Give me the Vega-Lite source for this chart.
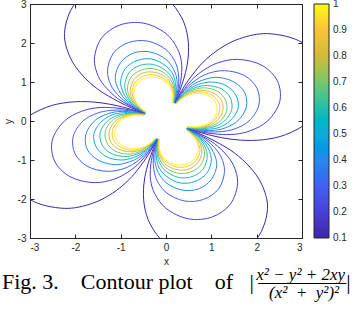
{
"$schema": "https://vega.github.io/schema/vega-lite/v6.json",
"autosize": "none",
"width": 272,
"height": 234,
"padding": {"left": 30, "top": 4, "right": 56, "bottom": 72},
"background": "white",
"config": {"view": {"stroke": "#262626", "strokeWidth": 1}, "font": "Liberation Sans"},
"title": {
  "text": "Fig. 3.\u00a0\u00a0\u00a0\u00a0Contour plot\u00a0\u00a0\u00a0\u00a0of\u00a0\u00a0\u00a0|\u2009\u2014\u2014\u2014\u2014|",
  "subtitle": ["\u2800\u00a0\u00a0\u00a0\u00a0\u00a0\u00a0\u00a0\u00a0\u00a0\u00a0\u00a0\u00a0\u00a0\u00a0\u00a0\u00a0\u00a0\u00a0\u00a0\u00a0\u00a0\u00a0\u00a0\u00a0\u00a0\u00a0\u00a0\u00a0\u00a0\u00a0\u00a0\u00a0\u00a0\u00a0\u00a0\u00a0\u00a0\u00a0\u00a0\u00a0\u00a0\u00a0\u00a0\u00a0\u00a0\u00a0\u00a0\u00a0\u00a0\u00a0\u00a0\u00a0\u00a0\u00a0\u00a0\u00a0\u00a0x\u00b2 \u2212 y\u00b2 + 2xy",
               "\u2800\u00a0\u00a0\u00a0\u00a0\u00a0\u00a0\u00a0\u00a0\u00a0\u00a0\u00a0\u00a0\u00a0\u00a0\u00a0\u00a0\u00a0\u00a0\u00a0\u00a0\u00a0\u00a0\u00a0\u00a0\u00a0\u00a0\u00a0\u00a0\u00a0\u00a0\u00a0\u00a0\u00a0\u00a0\u00a0\u00a0\u00a0\u00a0\u00a0\u00a0\u00a0\u00a0\u00a0\u00a0\u00a0\u00a0\u00a0\u00a0\u00a0\u00a0\u00a0\u00a0\u00a0\u00a0\u00a0\u00a0\u00a0\u00a0\u00a0\u00a0(x\u00b2\u00a0\u00a0+\u00a0\u00a0y\u00b2)\u00b2"],
  "orient": "bottom", "anchor": "start", "frame": "group", "align": "left", "dx": -28, "offset": 6,
  "font": "Liberation Serif", "fontSize": 22, "fontWeight": "normal", "color": "black",
  "subtitleFont": "Liberation Serif", "subtitleFontSize": 17, "subtitleFontStyle": "italic", "subtitleColor": "black",
  "subtitlePadding": -27, "subtitleLineHeight": 18
},
"data": {"values": [
{"c":0.1,"p":0,"x":0.46,"y":-0.19},{"c":0.1,"p":0,"x":0.65,"y":-0.26},{"c":0.1,"p":0,"x":0.93,"y":-0.35},{"c":0.1,"p":0,"x":1.24,"y":-0.43},{"c":0.1,"p":0,"x":1.64,"y":-0.49},{"c":0.1,"p":0,"x":2.15,"y":-0.48},{"c":0.1,"p":0,"x":2.64,"y":-0.35},{"c":0.1,"p":0,"x":3.16,"y":0},{"c":0.1,"p":0,"x":3.55,"y":0.71},{"c":0.1,"p":0,"x":3.47,"y":1.44},{"c":0.1,"p":0,"x":3.01,"y":2.01},{"c":0.1,"p":0,"x":2.24,"y":2.24},{"c":0.1,"p":0,"x":1.62,"y":2.11},{"c":0.1,"p":0,"x":1.18,"y":1.85},{"c":0.1,"p":0,"x":0.82,"y":1.51},{"c":0.1,"p":0,"x":0.58,"y":1.18},{"c":0.1,"p":0,"x":0.41,"y":0.9},{"c":0.1,"p":0,"x":0.28,"y":0.64},{"c":0.1,"p":0,"x":0.2,"y":0.46},
{"c":0.1,"p":1,"x":0.19,"y":0.46},{"c":0.1,"p":1,"x":0.26,"y":0.65},{"c":0.1,"p":1,"x":0.35,"y":0.93},{"c":0.1,"p":1,"x":0.43,"y":1.24},{"c":0.1,"p":1,"x":0.49,"y":1.64},{"c":0.1,"p":1,"x":0.48,"y":2.15},{"c":0.1,"p":1,"x":0.35,"y":2.64},{"c":0.1,"p":1,"x":0,"y":3.16},{"c":0.1,"p":1,"x":-0.71,"y":3.55},{"c":0.1,"p":1,"x":-1.44,"y":3.47},{"c":0.1,"p":1,"x":-2.01,"y":3.01},{"c":0.1,"p":1,"x":-2.24,"y":2.24},{"c":0.1,"p":1,"x":-2.11,"y":1.62},{"c":0.1,"p":1,"x":-1.85,"y":1.18},{"c":0.1,"p":1,"x":-1.51,"y":0.82},{"c":0.1,"p":1,"x":-1.18,"y":0.58},{"c":0.1,"p":1,"x":-0.9,"y":0.41},{"c":0.1,"p":1,"x":-0.64,"y":0.28},{"c":0.1,"p":1,"x":-0.46,"y":0.2},
{"c":0.1,"p":2,"x":-0.46,"y":0.19},{"c":0.1,"p":2,"x":-0.65,"y":0.26},{"c":0.1,"p":2,"x":-0.93,"y":0.35},{"c":0.1,"p":2,"x":-1.24,"y":0.43},{"c":0.1,"p":2,"x":-1.64,"y":0.49},{"c":0.1,"p":2,"x":-2.15,"y":0.48},{"c":0.1,"p":2,"x":-2.64,"y":0.35},{"c":0.1,"p":2,"x":-3.16,"y":0},{"c":0.1,"p":2,"x":-3.55,"y":-0.71},{"c":0.1,"p":2,"x":-3.47,"y":-1.44},{"c":0.1,"p":2,"x":-3.01,"y":-2.01},{"c":0.1,"p":2,"x":-2.24,"y":-2.24},{"c":0.1,"p":2,"x":-1.62,"y":-2.11},{"c":0.1,"p":2,"x":-1.18,"y":-1.85},{"c":0.1,"p":2,"x":-0.82,"y":-1.51},{"c":0.1,"p":2,"x":-0.58,"y":-1.18},{"c":0.1,"p":2,"x":-0.41,"y":-0.9},{"c":0.1,"p":2,"x":-0.28,"y":-0.64},{"c":0.1,"p":2,"x":-0.2,"y":-0.46},
{"c":0.1,"p":3,"x":-0.19,"y":-0.46},{"c":0.1,"p":3,"x":-0.26,"y":-0.65},{"c":0.1,"p":3,"x":-0.35,"y":-0.93},{"c":0.1,"p":3,"x":-0.43,"y":-1.24},{"c":0.1,"p":3,"x":-0.49,"y":-1.64},{"c":0.1,"p":3,"x":-0.48,"y":-2.15},{"c":0.1,"p":3,"x":-0.35,"y":-2.64},{"c":0.1,"p":3,"x":0,"y":-3.16},{"c":0.1,"p":3,"x":0.71,"y":-3.55},{"c":0.1,"p":3,"x":1.44,"y":-3.47},{"c":0.1,"p":3,"x":2.01,"y":-3.01},{"c":0.1,"p":3,"x":2.24,"y":-2.24},{"c":0.1,"p":3,"x":2.11,"y":-1.62},{"c":0.1,"p":3,"x":1.85,"y":-1.18},{"c":0.1,"p":3,"x":1.51,"y":-0.82},{"c":0.1,"p":3,"x":1.18,"y":-0.58},{"c":0.1,"p":3,"x":0.9,"y":-0.41},{"c":0.1,"p":3,"x":0.64,"y":-0.28},{"c":0.1,"p":3,"x":0.46,"y":-0.2},
{"c":0.2,"p":0,"x":0.47,"y":-0.18},{"c":0.2,"p":0,"x":0.66,"y":-0.25},{"c":0.2,"p":0,"x":0.88,"y":-0.3},{"c":0.2,"p":0,"x":1.16,"y":-0.34},{"c":0.2,"p":0,"x":1.52,"y":-0.34},{"c":0.2,"p":0,"x":1.86,"y":-0.25},{"c":0.2,"p":0,"x":2.24,"y":0},{"c":0.2,"p":0,"x":2.51,"y":0.5},{"c":0.2,"p":0,"x":2.46,"y":1.02},{"c":0.2,"p":0,"x":2.13,"y":1.42},{"c":0.2,"p":0,"x":1.58,"y":1.58},{"c":0.2,"p":0,"x":1.14,"y":1.49},{"c":0.2,"p":0,"x":0.84,"y":1.31},{"c":0.2,"p":0,"x":0.58,"y":1.07},{"c":0.2,"p":0,"x":0.41,"y":0.83},{"c":0.2,"p":0,"x":0.29,"y":0.64},{"c":0.2,"p":0,"x":0.2,"y":0.46},
{"c":0.2,"p":1,"x":0.18,"y":0.47},{"c":0.2,"p":1,"x":0.25,"y":0.66},{"c":0.2,"p":1,"x":0.3,"y":0.88},{"c":0.2,"p":1,"x":0.34,"y":1.16},{"c":0.2,"p":1,"x":0.34,"y":1.52},{"c":0.2,"p":1,"x":0.25,"y":1.86},{"c":0.2,"p":1,"x":0,"y":2.24},{"c":0.2,"p":1,"x":-0.5,"y":2.51},{"c":0.2,"p":1,"x":-1.02,"y":2.46},{"c":0.2,"p":1,"x":-1.42,"y":2.13},{"c":0.2,"p":1,"x":-1.58,"y":1.58},{"c":0.2,"p":1,"x":-1.49,"y":1.14},{"c":0.2,"p":1,"x":-1.31,"y":0.84},{"c":0.2,"p":1,"x":-1.07,"y":0.58},{"c":0.2,"p":1,"x":-0.83,"y":0.41},{"c":0.2,"p":1,"x":-0.64,"y":0.29},{"c":0.2,"p":1,"x":-0.46,"y":0.2},
{"c":0.2,"p":2,"x":-0.47,"y":0.18},{"c":0.2,"p":2,"x":-0.66,"y":0.25},{"c":0.2,"p":2,"x":-0.88,"y":0.3},{"c":0.2,"p":2,"x":-1.16,"y":0.34},{"c":0.2,"p":2,"x":-1.52,"y":0.34},{"c":0.2,"p":2,"x":-1.86,"y":0.25},{"c":0.2,"p":2,"x":-2.24,"y":0},{"c":0.2,"p":2,"x":-2.51,"y":-0.5},{"c":0.2,"p":2,"x":-2.46,"y":-1.02},{"c":0.2,"p":2,"x":-2.13,"y":-1.42},{"c":0.2,"p":2,"x":-1.58,"y":-1.58},{"c":0.2,"p":2,"x":-1.14,"y":-1.49},{"c":0.2,"p":2,"x":-0.84,"y":-1.31},{"c":0.2,"p":2,"x":-0.58,"y":-1.07},{"c":0.2,"p":2,"x":-0.41,"y":-0.83},{"c":0.2,"p":2,"x":-0.29,"y":-0.64},{"c":0.2,"p":2,"x":-0.2,"y":-0.46},
{"c":0.2,"p":3,"x":-0.18,"y":-0.47},{"c":0.2,"p":3,"x":-0.25,"y":-0.66},{"c":0.2,"p":3,"x":-0.3,"y":-0.88},{"c":0.2,"p":3,"x":-0.34,"y":-1.16},{"c":0.2,"p":3,"x":-0.34,"y":-1.52},{"c":0.2,"p":3,"x":-0.25,"y":-1.86},{"c":0.2,"p":3,"x":0,"y":-2.24},{"c":0.2,"p":3,"x":0.5,"y":-2.51},{"c":0.2,"p":3,"x":1.02,"y":-2.46},{"c":0.2,"p":3,"x":1.42,"y":-2.13},{"c":0.2,"p":3,"x":1.58,"y":-1.58},{"c":0.2,"p":3,"x":1.49,"y":-1.14},{"c":0.2,"p":3,"x":1.31,"y":-0.84},{"c":0.2,"p":3,"x":1.07,"y":-0.58},{"c":0.2,"p":3,"x":0.83,"y":-0.41},{"c":0.2,"p":3,"x":0.64,"y":-0.29},{"c":0.2,"p":3,"x":0.46,"y":-0.2},
{"c":0.3,"p":0,"x":0.47,"y":-0.18},{"c":0.3,"p":0,"x":0.54,"y":-0.2},{"c":0.3,"p":0,"x":0.72,"y":-0.25},{"c":0.3,"p":0,"x":0.95,"y":-0.28},{"c":0.3,"p":0,"x":1.24,"y":-0.27},{"c":0.3,"p":0,"x":1.52,"y":-0.2},{"c":0.3,"p":0,"x":1.83,"y":0},{"c":0.3,"p":0,"x":2.05,"y":0.41},{"c":0.3,"p":0,"x":2.01,"y":0.83},{"c":0.3,"p":0,"x":1.74,"y":1.16},{"c":0.3,"p":0,"x":1.29,"y":1.29},{"c":0.3,"p":0,"x":0.93,"y":1.22},{"c":0.3,"p":0,"x":0.68,"y":1.07},{"c":0.3,"p":0,"x":0.47,"y":0.87},{"c":0.3,"p":0,"x":0.33,"y":0.68},{"c":0.3,"p":0,"x":0.24,"y":0.52},{"c":0.3,"p":0,"x":0.2,"y":0.46},
{"c":0.3,"p":1,"x":0.18,"y":0.47},{"c":0.3,"p":1,"x":0.2,"y":0.54},{"c":0.3,"p":1,"x":0.25,"y":0.72},{"c":0.3,"p":1,"x":0.28,"y":0.95},{"c":0.3,"p":1,"x":0.27,"y":1.24},{"c":0.3,"p":1,"x":0.2,"y":1.52},{"c":0.3,"p":1,"x":0,"y":1.83},{"c":0.3,"p":1,"x":-0.41,"y":2.05},{"c":0.3,"p":1,"x":-0.83,"y":2.01},{"c":0.3,"p":1,"x":-1.16,"y":1.74},{"c":0.3,"p":1,"x":-1.29,"y":1.29},{"c":0.3,"p":1,"x":-1.22,"y":0.93},{"c":0.3,"p":1,"x":-1.07,"y":0.68},{"c":0.3,"p":1,"x":-0.87,"y":0.47},{"c":0.3,"p":1,"x":-0.68,"y":0.33},{"c":0.3,"p":1,"x":-0.52,"y":0.24},{"c":0.3,"p":1,"x":-0.46,"y":0.2},
{"c":0.3,"p":2,"x":-0.47,"y":0.18},{"c":0.3,"p":2,"x":-0.54,"y":0.2},{"c":0.3,"p":2,"x":-0.72,"y":0.25},{"c":0.3,"p":2,"x":-0.95,"y":0.28},{"c":0.3,"p":2,"x":-1.24,"y":0.27},{"c":0.3,"p":2,"x":-1.52,"y":0.2},{"c":0.3,"p":2,"x":-1.83,"y":0},{"c":0.3,"p":2,"x":-2.05,"y":-0.41},{"c":0.3,"p":2,"x":-2.01,"y":-0.83},{"c":0.3,"p":2,"x":-1.74,"y":-1.16},{"c":0.3,"p":2,"x":-1.29,"y":-1.29},{"c":0.3,"p":2,"x":-0.93,"y":-1.22},{"c":0.3,"p":2,"x":-0.68,"y":-1.07},{"c":0.3,"p":2,"x":-0.47,"y":-0.87},{"c":0.3,"p":2,"x":-0.33,"y":-0.68},{"c":0.3,"p":2,"x":-0.24,"y":-0.52},{"c":0.3,"p":2,"x":-0.2,"y":-0.46},
{"c":0.3,"p":3,"x":-0.18,"y":-0.47},{"c":0.3,"p":3,"x":-0.2,"y":-0.54},{"c":0.3,"p":3,"x":-0.25,"y":-0.72},{"c":0.3,"p":3,"x":-0.28,"y":-0.95},{"c":0.3,"p":3,"x":-0.27,"y":-1.24},{"c":0.3,"p":3,"x":-0.2,"y":-1.52},{"c":0.3,"p":3,"x":0,"y":-1.83},{"c":0.3,"p":3,"x":0.41,"y":-2.05},{"c":0.3,"p":3,"x":0.83,"y":-2.01},{"c":0.3,"p":3,"x":1.16,"y":-1.74},{"c":0.3,"p":3,"x":1.29,"y":-1.29},{"c":0.3,"p":3,"x":1.22,"y":-0.93},{"c":0.3,"p":3,"x":1.07,"y":-0.68},{"c":0.3,"p":3,"x":0.87,"y":-0.47},{"c":0.3,"p":3,"x":0.68,"y":-0.33},{"c":0.3,"p":3,"x":0.52,"y":-0.24},{"c":0.3,"p":3,"x":0.46,"y":-0.2},
{"c":0.4,"p":0,"x":0.47,"y":-0.17},{"c":0.4,"p":0,"x":0.62,"y":-0.21},{"c":0.4,"p":0,"x":0.82,"y":-0.24},{"c":0.4,"p":0,"x":1.07,"y":-0.24},{"c":0.4,"p":0,"x":1.32,"y":-0.17},{"c":0.4,"p":0,"x":1.58,"y":0},{"c":0.4,"p":0,"x":1.77,"y":0.35},{"c":0.4,"p":0,"x":1.74,"y":0.72},{"c":0.4,"p":0,"x":1.5,"y":1},{"c":0.4,"p":0,"x":1.12,"y":1.12},{"c":0.4,"p":0,"x":0.81,"y":1.05},{"c":0.4,"p":0,"x":0.59,"y":0.93},{"c":0.4,"p":0,"x":0.41,"y":0.75},{"c":0.4,"p":0,"x":0.29,"y":0.59},{"c":0.4,"p":0,"x":0.21,"y":0.45},
{"c":0.4,"p":1,"x":0.17,"y":0.47},{"c":0.4,"p":1,"x":0.21,"y":0.62},{"c":0.4,"p":1,"x":0.24,"y":0.82},{"c":0.4,"p":1,"x":0.24,"y":1.07},{"c":0.4,"p":1,"x":0.17,"y":1.32},{"c":0.4,"p":1,"x":0,"y":1.58},{"c":0.4,"p":1,"x":-0.35,"y":1.77},{"c":0.4,"p":1,"x":-0.72,"y":1.74},{"c":0.4,"p":1,"x":-1,"y":1.5},{"c":0.4,"p":1,"x":-1.12,"y":1.12},{"c":0.4,"p":1,"x":-1.05,"y":0.81},{"c":0.4,"p":1,"x":-0.93,"y":0.59},{"c":0.4,"p":1,"x":-0.75,"y":0.41},{"c":0.4,"p":1,"x":-0.59,"y":0.29},{"c":0.4,"p":1,"x":-0.45,"y":0.21},
{"c":0.4,"p":2,"x":-0.47,"y":0.17},{"c":0.4,"p":2,"x":-0.62,"y":0.21},{"c":0.4,"p":2,"x":-0.82,"y":0.24},{"c":0.4,"p":2,"x":-1.07,"y":0.24},{"c":0.4,"p":2,"x":-1.32,"y":0.17},{"c":0.4,"p":2,"x":-1.58,"y":0},{"c":0.4,"p":2,"x":-1.77,"y":-0.35},{"c":0.4,"p":2,"x":-1.74,"y":-0.72},{"c":0.4,"p":2,"x":-1.5,"y":-1},{"c":0.4,"p":2,"x":-1.12,"y":-1.12},{"c":0.4,"p":2,"x":-0.81,"y":-1.05},{"c":0.4,"p":2,"x":-0.59,"y":-0.93},{"c":0.4,"p":2,"x":-0.41,"y":-0.75},{"c":0.4,"p":2,"x":-0.29,"y":-0.59},{"c":0.4,"p":2,"x":-0.21,"y":-0.45},
{"c":0.4,"p":3,"x":-0.17,"y":-0.47},{"c":0.4,"p":3,"x":-0.21,"y":-0.62},{"c":0.4,"p":3,"x":-0.24,"y":-0.82},{"c":0.4,"p":3,"x":-0.24,"y":-1.07},{"c":0.4,"p":3,"x":-0.17,"y":-1.32},{"c":0.4,"p":3,"x":0,"y":-1.58},{"c":0.4,"p":3,"x":0.35,"y":-1.77},{"c":0.4,"p":3,"x":0.72,"y":-1.74},{"c":0.4,"p":3,"x":1,"y":-1.5},{"c":0.4,"p":3,"x":1.12,"y":-1.12},{"c":0.4,"p":3,"x":1.05,"y":-0.81},{"c":0.4,"p":3,"x":0.93,"y":-0.59},{"c":0.4,"p":3,"x":0.75,"y":-0.41},{"c":0.4,"p":3,"x":0.59,"y":-0.29},{"c":0.4,"p":3,"x":0.45,"y":-0.21},
{"c":0.5,"p":0,"x":0.47,"y":-0.17},{"c":0.5,"p":0,"x":0.56,"y":-0.19},{"c":0.5,"p":0,"x":0.74,"y":-0.22},{"c":0.5,"p":0,"x":0.96,"y":-0.21},{"c":0.5,"p":0,"x":1.18,"y":-0.16},{"c":0.5,"p":0,"x":1.41,"y":0},{"c":0.5,"p":0,"x":1.59,"y":0.32},{"c":0.5,"p":0,"x":1.55,"y":0.64},{"c":0.5,"p":0,"x":1.34,"y":0.9},{"c":0.5,"p":0,"x":1,"y":1},{"c":0.5,"p":0,"x":0.72,"y":0.94},{"c":0.5,"p":0,"x":0.53,"y":0.83},{"c":0.5,"p":0,"x":0.37,"y":0.67},{"c":0.5,"p":0,"x":0.26,"y":0.53},{"c":0.5,"p":0,"x":0.21,"y":0.45},
{"c":0.5,"p":1,"x":0.17,"y":0.47},{"c":0.5,"p":1,"x":0.19,"y":0.56},{"c":0.5,"p":1,"x":0.22,"y":0.74},{"c":0.5,"p":1,"x":0.21,"y":0.96},{"c":0.5,"p":1,"x":0.16,"y":1.18},{"c":0.5,"p":1,"x":0,"y":1.41},{"c":0.5,"p":1,"x":-0.32,"y":1.59},{"c":0.5,"p":1,"x":-0.64,"y":1.55},{"c":0.5,"p":1,"x":-0.9,"y":1.34},{"c":0.5,"p":1,"x":-1,"y":1},{"c":0.5,"p":1,"x":-0.94,"y":0.72},{"c":0.5,"p":1,"x":-0.83,"y":0.53},{"c":0.5,"p":1,"x":-0.67,"y":0.37},{"c":0.5,"p":1,"x":-0.53,"y":0.26},{"c":0.5,"p":1,"x":-0.45,"y":0.21},
{"c":0.5,"p":2,"x":-0.47,"y":0.17},{"c":0.5,"p":2,"x":-0.56,"y":0.19},{"c":0.5,"p":2,"x":-0.74,"y":0.22},{"c":0.5,"p":2,"x":-0.96,"y":0.21},{"c":0.5,"p":2,"x":-1.18,"y":0.16},{"c":0.5,"p":2,"x":-1.41,"y":0},{"c":0.5,"p":2,"x":-1.59,"y":-0.32},{"c":0.5,"p":2,"x":-1.55,"y":-0.64},{"c":0.5,"p":2,"x":-1.34,"y":-0.9},{"c":0.5,"p":2,"x":-1,"y":-1},{"c":0.5,"p":2,"x":-0.72,"y":-0.94},{"c":0.5,"p":2,"x":-0.53,"y":-0.83},{"c":0.5,"p":2,"x":-0.37,"y":-0.67},{"c":0.5,"p":2,"x":-0.26,"y":-0.53},{"c":0.5,"p":2,"x":-0.21,"y":-0.45},
{"c":0.5,"p":3,"x":-0.17,"y":-0.47},{"c":0.5,"p":3,"x":-0.19,"y":-0.56},{"c":0.5,"p":3,"x":-0.22,"y":-0.74},{"c":0.5,"p":3,"x":-0.21,"y":-0.96},{"c":0.5,"p":3,"x":-0.16,"y":-1.18},{"c":0.5,"p":3,"x":0,"y":-1.41},{"c":0.5,"p":3,"x":0.32,"y":-1.59},{"c":0.5,"p":3,"x":0.64,"y":-1.55},{"c":0.5,"p":3,"x":0.9,"y":-1.34},{"c":0.5,"p":3,"x":1,"y":-1},{"c":0.5,"p":3,"x":0.94,"y":-0.72},{"c":0.5,"p":3,"x":0.83,"y":-0.53},{"c":0.5,"p":3,"x":0.67,"y":-0.37},{"c":0.5,"p":3,"x":0.53,"y":-0.26},{"c":0.5,"p":3,"x":0.45,"y":-0.21},
{"c":0.6,"p":0,"x":0.47,"y":-0.17},{"c":0.6,"p":0,"x":0.51,"y":-0.17},{"c":0.6,"p":0,"x":0.67,"y":-0.2},{"c":0.6,"p":0,"x":0.88,"y":-0.19},{"c":0.6,"p":0,"x":1.08,"y":-0.14},{"c":0.6,"p":0,"x":1.29,"y":0},{"c":0.6,"p":0,"x":1.45,"y":0.29},{"c":0.6,"p":0,"x":1.42,"y":0.59},{"c":0.6,"p":0,"x":1.23,"y":0.82},{"c":0.6,"p":0,"x":0.91,"y":0.91},{"c":0.6,"p":0,"x":0.66,"y":0.86},{"c":0.6,"p":0,"x":0.48,"y":0.76},{"c":0.6,"p":0,"x":0.33,"y":0.62},{"c":0.6,"p":0,"x":0.23,"y":0.48},{"c":0.6,"p":0,"x":0.22,"y":0.45},
{"c":0.6,"p":1,"x":0.17,"y":0.47},{"c":0.6,"p":1,"x":0.17,"y":0.51},{"c":0.6,"p":1,"x":0.2,"y":0.67},{"c":0.6,"p":1,"x":0.19,"y":0.88},{"c":0.6,"p":1,"x":0.14,"y":1.08},{"c":0.6,"p":1,"x":0,"y":1.29},{"c":0.6,"p":1,"x":-0.29,"y":1.45},{"c":0.6,"p":1,"x":-0.59,"y":1.42},{"c":0.6,"p":1,"x":-0.82,"y":1.23},{"c":0.6,"p":1,"x":-0.91,"y":0.91},{"c":0.6,"p":1,"x":-0.86,"y":0.66},{"c":0.6,"p":1,"x":-0.76,"y":0.48},{"c":0.6,"p":1,"x":-0.62,"y":0.33},{"c":0.6,"p":1,"x":-0.48,"y":0.23},{"c":0.6,"p":1,"x":-0.45,"y":0.22},
{"c":0.6,"p":2,"x":-0.47,"y":0.17},{"c":0.6,"p":2,"x":-0.51,"y":0.17},{"c":0.6,"p":2,"x":-0.67,"y":0.2},{"c":0.6,"p":2,"x":-0.88,"y":0.19},{"c":0.6,"p":2,"x":-1.08,"y":0.14},{"c":0.6,"p":2,"x":-1.29,"y":0},{"c":0.6,"p":2,"x":-1.45,"y":-0.29},{"c":0.6,"p":2,"x":-1.42,"y":-0.59},{"c":0.6,"p":2,"x":-1.23,"y":-0.82},{"c":0.6,"p":2,"x":-0.91,"y":-0.91},{"c":0.6,"p":2,"x":-0.66,"y":-0.86},{"c":0.6,"p":2,"x":-0.48,"y":-0.76},{"c":0.6,"p":2,"x":-0.33,"y":-0.62},{"c":0.6,"p":2,"x":-0.23,"y":-0.48},{"c":0.6,"p":2,"x":-0.22,"y":-0.45},
{"c":0.6,"p":3,"x":-0.17,"y":-0.47},{"c":0.6,"p":3,"x":-0.17,"y":-0.51},{"c":0.6,"p":3,"x":-0.2,"y":-0.67},{"c":0.6,"p":3,"x":-0.19,"y":-0.88},{"c":0.6,"p":3,"x":-0.14,"y":-1.08},{"c":0.6,"p":3,"x":0,"y":-1.29},{"c":0.6,"p":3,"x":0.29,"y":-1.45},{"c":0.6,"p":3,"x":0.59,"y":-1.42},{"c":0.6,"p":3,"x":0.82,"y":-1.23},{"c":0.6,"p":3,"x":0.91,"y":-0.91},{"c":0.6,"p":3,"x":0.86,"y":-0.66},{"c":0.6,"p":3,"x":0.76,"y":-0.48},{"c":0.6,"p":3,"x":0.62,"y":-0.33},{"c":0.6,"p":3,"x":0.48,"y":-0.23},{"c":0.6,"p":3,"x":0.45,"y":-0.22},
{"c":0.7,"p":0,"x":0.47,"y":-0.16},{"c":0.7,"p":0,"x":0.62,"y":-0.18},{"c":0.7,"p":0,"x":0.81,"y":-0.18},{"c":0.7,"p":0,"x":1,"y":-0.13},{"c":0.7,"p":0,"x":1.2,"y":0},{"c":0.7,"p":0,"x":1.34,"y":0.27},{"c":0.7,"p":0,"x":1.31,"y":0.54},{"c":0.7,"p":0,"x":1.14,"y":0.76},{"c":0.7,"p":0,"x":0.85,"y":0.85},{"c":0.7,"p":0,"x":0.61,"y":0.8},{"c":0.7,"p":0,"x":0.45,"y":0.7},{"c":0.7,"p":0,"x":0.31,"y":0.57},{"c":0.7,"p":0,"x":0.22,"y":0.45},
{"c":0.7,"p":1,"x":0.16,"y":0.47},{"c":0.7,"p":1,"x":0.18,"y":0.62},{"c":0.7,"p":1,"x":0.18,"y":0.81},{"c":0.7,"p":1,"x":0.13,"y":1},{"c":0.7,"p":1,"x":0,"y":1.2},{"c":0.7,"p":1,"x":-0.27,"y":1.34},{"c":0.7,"p":1,"x":-0.54,"y":1.31},{"c":0.7,"p":1,"x":-0.76,"y":1.14},{"c":0.7,"p":1,"x":-0.85,"y":0.85},{"c":0.7,"p":1,"x":-0.8,"y":0.61},{"c":0.7,"p":1,"x":-0.7,"y":0.45},{"c":0.7,"p":1,"x":-0.57,"y":0.31},{"c":0.7,"p":1,"x":-0.45,"y":0.22},
{"c":0.7,"p":2,"x":-0.47,"y":0.16},{"c":0.7,"p":2,"x":-0.62,"y":0.18},{"c":0.7,"p":2,"x":-0.81,"y":0.18},{"c":0.7,"p":2,"x":-1,"y":0.13},{"c":0.7,"p":2,"x":-1.2,"y":0},{"c":0.7,"p":2,"x":-1.34,"y":-0.27},{"c":0.7,"p":2,"x":-1.31,"y":-0.54},{"c":0.7,"p":2,"x":-1.14,"y":-0.76},{"c":0.7,"p":2,"x":-0.85,"y":-0.85},{"c":0.7,"p":2,"x":-0.61,"y":-0.8},{"c":0.7,"p":2,"x":-0.45,"y":-0.7},{"c":0.7,"p":2,"x":-0.31,"y":-0.57},{"c":0.7,"p":2,"x":-0.22,"y":-0.45},
{"c":0.7,"p":3,"x":-0.16,"y":-0.47},{"c":0.7,"p":3,"x":-0.18,"y":-0.62},{"c":0.7,"p":3,"x":-0.18,"y":-0.81},{"c":0.7,"p":3,"x":-0.13,"y":-1},{"c":0.7,"p":3,"x":0,"y":-1.2},{"c":0.7,"p":3,"x":0.27,"y":-1.34},{"c":0.7,"p":3,"x":0.54,"y":-1.31},{"c":0.7,"p":3,"x":0.76,"y":-1.14},{"c":0.7,"p":3,"x":0.85,"y":-0.85},{"c":0.7,"p":3,"x":0.8,"y":-0.61},{"c":0.7,"p":3,"x":0.7,"y":-0.45},{"c":0.7,"p":3,"x":0.57,"y":-0.31},{"c":0.7,"p":3,"x":0.45,"y":-0.22},
{"c":0.8,"p":0,"x":0.47,"y":-0.16},{"c":0.8,"p":0,"x":0.58,"y":-0.17},{"c":0.8,"p":0,"x":0.76,"y":-0.17},{"c":0.8,"p":0,"x":0.93,"y":-0.12},{"c":0.8,"p":0,"x":1.12,"y":0},{"c":0.8,"p":0,"x":1.25,"y":0.25},{"c":0.8,"p":0,"x":1.23,"y":0.51},{"c":0.8,"p":0,"x":1.06,"y":0.71},{"c":0.8,"p":0,"x":0.79,"y":0.79},{"c":0.8,"p":0,"x":0.57,"y":0.75},{"c":0.8,"p":0,"x":0.42,"y":0.66},{"c":0.8,"p":0,"x":0.29,"y":0.53},{"c":0.8,"p":0,"x":0.22,"y":0.45},
{"c":0.8,"p":1,"x":0.16,"y":0.47},{"c":0.8,"p":1,"x":0.17,"y":0.58},{"c":0.8,"p":1,"x":0.17,"y":0.76},{"c":0.8,"p":1,"x":0.12,"y":0.93},{"c":0.8,"p":1,"x":0,"y":1.12},{"c":0.8,"p":1,"x":-0.25,"y":1.25},{"c":0.8,"p":1,"x":-0.51,"y":1.23},{"c":0.8,"p":1,"x":-0.71,"y":1.06},{"c":0.8,"p":1,"x":-0.79,"y":0.79},{"c":0.8,"p":1,"x":-0.75,"y":0.57},{"c":0.8,"p":1,"x":-0.66,"y":0.42},{"c":0.8,"p":1,"x":-0.53,"y":0.29},{"c":0.8,"p":1,"x":-0.45,"y":0.22},
{"c":0.8,"p":2,"x":-0.47,"y":0.16},{"c":0.8,"p":2,"x":-0.58,"y":0.17},{"c":0.8,"p":2,"x":-0.76,"y":0.17},{"c":0.8,"p":2,"x":-0.93,"y":0.12},{"c":0.8,"p":2,"x":-1.12,"y":0},{"c":0.8,"p":2,"x":-1.25,"y":-0.25},{"c":0.8,"p":2,"x":-1.23,"y":-0.51},{"c":0.8,"p":2,"x":-1.06,"y":-0.71},{"c":0.8,"p":2,"x":-0.79,"y":-0.79},{"c":0.8,"p":2,"x":-0.57,"y":-0.75},{"c":0.8,"p":2,"x":-0.42,"y":-0.66},{"c":0.8,"p":2,"x":-0.29,"y":-0.53},{"c":0.8,"p":2,"x":-0.22,"y":-0.45},
{"c":0.8,"p":3,"x":-0.16,"y":-0.47},{"c":0.8,"p":3,"x":-0.17,"y":-0.58},{"c":0.8,"p":3,"x":-0.17,"y":-0.76},{"c":0.8,"p":3,"x":-0.12,"y":-0.93},{"c":0.8,"p":3,"x":0,"y":-1.12},{"c":0.8,"p":3,"x":0.25,"y":-1.25},{"c":0.8,"p":3,"x":0.51,"y":-1.23},{"c":0.8,"p":3,"x":0.71,"y":-1.06},{"c":0.8,"p":3,"x":0.79,"y":-0.79},{"c":0.8,"p":3,"x":0.75,"y":-0.57},{"c":0.8,"p":3,"x":0.66,"y":-0.42},{"c":0.8,"p":3,"x":0.53,"y":-0.29},{"c":0.8,"p":3,"x":0.45,"y":-0.22},
{"c":0.9,"p":0,"x":0.48,"y":-0.15},{"c":0.9,"p":0,"x":0.55,"y":-0.16},{"c":0.9,"p":0,"x":0.72,"y":-0.16},{"c":0.9,"p":0,"x":0.88,"y":-0.12},{"c":0.9,"p":0,"x":1.05,"y":0},{"c":0.9,"p":0,"x":1.18,"y":0.24},{"c":0.9,"p":0,"x":1.16,"y":0.48},{"c":0.9,"p":0,"x":1,"y":0.67},{"c":0.9,"p":0,"x":0.75,"y":0.75},{"c":0.9,"p":0,"x":0.54,"y":0.7},{"c":0.9,"p":0,"x":0.39,"y":0.62},{"c":0.9,"p":0,"x":0.27,"y":0.5},{"c":0.9,"p":0,"x":0.23,"y":0.45},
{"c":0.9,"p":1,"x":0.15,"y":0.48},{"c":0.9,"p":1,"x":0.16,"y":0.55},{"c":0.9,"p":1,"x":0.16,"y":0.72},{"c":0.9,"p":1,"x":0.12,"y":0.88},{"c":0.9,"p":1,"x":0,"y":1.05},{"c":0.9,"p":1,"x":-0.24,"y":1.18},{"c":0.9,"p":1,"x":-0.48,"y":1.16},{"c":0.9,"p":1,"x":-0.67,"y":1},{"c":0.9,"p":1,"x":-0.75,"y":0.75},{"c":0.9,"p":1,"x":-0.7,"y":0.54},{"c":0.9,"p":1,"x":-0.62,"y":0.39},{"c":0.9,"p":1,"x":-0.5,"y":0.27},{"c":0.9,"p":1,"x":-0.45,"y":0.23},
{"c":0.9,"p":2,"x":-0.48,"y":0.15},{"c":0.9,"p":2,"x":-0.55,"y":0.16},{"c":0.9,"p":2,"x":-0.72,"y":0.16},{"c":0.9,"p":2,"x":-0.88,"y":0.12},{"c":0.9,"p":2,"x":-1.05,"y":0},{"c":0.9,"p":2,"x":-1.18,"y":-0.24},{"c":0.9,"p":2,"x":-1.16,"y":-0.48},{"c":0.9,"p":2,"x":-1,"y":-0.67},{"c":0.9,"p":2,"x":-0.75,"y":-0.75},{"c":0.9,"p":2,"x":-0.54,"y":-0.7},{"c":0.9,"p":2,"x":-0.39,"y":-0.62},{"c":0.9,"p":2,"x":-0.27,"y":-0.5},{"c":0.9,"p":2,"x":-0.23,"y":-0.45},
{"c":0.9,"p":3,"x":-0.15,"y":-0.48},{"c":0.9,"p":3,"x":-0.16,"y":-0.55},{"c":0.9,"p":3,"x":-0.16,"y":-0.72},{"c":0.9,"p":3,"x":-0.12,"y":-0.88},{"c":0.9,"p":3,"x":0,"y":-1.05},{"c":0.9,"p":3,"x":0.24,"y":-1.18},{"c":0.9,"p":3,"x":0.48,"y":-1.16},{"c":0.9,"p":3,"x":0.67,"y":-1},{"c":0.9,"p":3,"x":0.75,"y":-0.75},{"c":0.9,"p":3,"x":0.7,"y":-0.54},{"c":0.9,"p":3,"x":0.62,"y":-0.39},{"c":0.9,"p":3,"x":0.5,"y":-0.27},{"c":0.9,"p":3,"x":0.45,"y":-0.23},
{"c":1,"p":0,"x":0.48,"y":-0.15},{"c":1,"p":0,"x":0.52,"y":-0.15},{"c":1,"p":0,"x":0.68,"y":-0.15},{"c":1,"p":0,"x":0.83,"y":-0.11},{"c":1,"p":0,"x":1,"y":0},{"c":1,"p":0,"x":1.12,"y":0.22},{"c":1,"p":0,"x":1.1,"y":0.46},{"c":1,"p":0,"x":0.95,"y":0.64},{"c":1,"p":0,"x":0.71,"y":0.71},{"c":1,"p":0,"x":0.51,"y":0.67},{"c":1,"p":0,"x":0.37,"y":0.59},{"c":1,"p":0,"x":0.26,"y":0.48},{"c":1,"p":0,"x":0.23,"y":0.44},
{"c":1,"p":1,"x":0.15,"y":0.48},{"c":1,"p":1,"x":0.15,"y":0.52},{"c":1,"p":1,"x":0.15,"y":0.68},{"c":1,"p":1,"x":0.11,"y":0.83},{"c":1,"p":1,"x":0,"y":1},{"c":1,"p":1,"x":-0.22,"y":1.12},{"c":1,"p":1,"x":-0.46,"y":1.1},{"c":1,"p":1,"x":-0.64,"y":0.95},{"c":1,"p":1,"x":-0.71,"y":0.71},{"c":1,"p":1,"x":-0.67,"y":0.51},{"c":1,"p":1,"x":-0.59,"y":0.37},{"c":1,"p":1,"x":-0.48,"y":0.26},{"c":1,"p":1,"x":-0.44,"y":0.23},
{"c":1,"p":2,"x":-0.48,"y":0.15},{"c":1,"p":2,"x":-0.52,"y":0.15},{"c":1,"p":2,"x":-0.68,"y":0.15},{"c":1,"p":2,"x":-0.83,"y":0.11},{"c":1,"p":2,"x":-1,"y":0},{"c":1,"p":2,"x":-1.12,"y":-0.22},{"c":1,"p":2,"x":-1.1,"y":-0.46},{"c":1,"p":2,"x":-0.95,"y":-0.64},{"c":1,"p":2,"x":-0.71,"y":-0.71},{"c":1,"p":2,"x":-0.51,"y":-0.67},{"c":1,"p":2,"x":-0.37,"y":-0.59},{"c":1,"p":2,"x":-0.26,"y":-0.48},{"c":1,"p":2,"x":-0.23,"y":-0.44},
{"c":1,"p":3,"x":-0.15,"y":-0.48},{"c":1,"p":3,"x":-0.15,"y":-0.52},{"c":1,"p":3,"x":-0.15,"y":-0.68},{"c":1,"p":3,"x":-0.11,"y":-0.83},{"c":1,"p":3,"x":0,"y":-1},{"c":1,"p":3,"x":0.22,"y":-1.12},{"c":1,"p":3,"x":0.46,"y":-1.1},{"c":1,"p":3,"x":0.64,"y":-0.95},{"c":1,"p":3,"x":0.71,"y":-0.71},{"c":1,"p":3,"x":0.67,"y":-0.51},{"c":1,"p":3,"x":0.59,"y":-0.37},{"c":1,"p":3,"x":0.48,"y":-0.26},{"c":1,"p":3,"x":0.44,"y":-0.23}
]},
"layer": [
  {
    "mark": {"type": "line", "clip": true, "strokeWidth": 1, "interpolate": "catmull-rom"},
    "encoding": {
      "x": {"field": "x", "type": "quantitative", "scale": {"domain": [-3, 3], "nice": false, "zero": false},
        "axis": {"orient": "bottom", "values": [-3, -2, -1, 0, 1, 2, 3], "labelExpr": "'' + datum.value", "title": "x", "grid": false,
          "tickSize": -4, "labelPadding": 8, "labelFontSize": 10, "labelColor": "#262626", "titleFontSize": 10, "titleFontWeight": "normal", "titleColor": "#262626", "titlePadding": 4,
          "domainColor": "#262626", "tickColor": "#262626", "labelFont": "Liberation Sans", "titleFont": "Liberation Sans"}},
      "y": {"field": "y", "type": "quantitative", "scale": {"domain": [-3, 3], "nice": false, "zero": false},
        "axis": {"orient": "left", "values": [-3, -2, -1, 0, 1, 2, 3], "labelExpr": "'' + datum.value", "title": "y", "grid": false,
          "tickSize": -4, "labelPadding": 8, "labelFontSize": 10, "labelColor": "#262626", "titleFontSize": 10, "titleFontWeight": "normal", "titleColor": "#262626", "titlePadding": 4,
          "domainColor": "#262626", "tickColor": "#262626", "labelFont": "Liberation Sans", "titleFont": "Liberation Sans"}},
      "color": {"field": "c", "type": "quantitative",
        "scale": {"domain": [0.1, 0.2, 0.3, 0.4, 0.5, 0.6, 0.7, 0.8, 0.9, 1.0],
          "range": ["#3E26A8", "#4641D8", "#4262F2", "#2C87EC", "#12AADB", "#23BEAB", "#7AC66A", "#D2BA3A", "#FCC13B", "#F9FB15"]},
        "legend": {"type": "gradient", "orient": "right", "offset": 11, "padding": 0, "title": null, "direction": "vertical",
          "gradientLength": 234, "gradientThickness": 15, "gradientStrokeColor": "#262626", "gradientStrokeWidth": 1,
          "values": [0.1, 0.2, 0.3, 0.4, 0.5, 0.6, 0.7, 0.8, 0.9, 1], "format": ".1~f", "labelOverlap": false,
          "labelFontSize": 10, "labelFont": "Liberation Sans", "labelColor": "#262626", "labelOffset": 4, "labelBaseline": "middle",
          "encode": {"labels": {"update": {"baseline": {"value": "middle"}}}}}},
      "detail": {"field": "p", "type": "nominal"},
      "order": {"value": null}
    }
  },
  {
    "mark": {"type": "point", "opacity": 0},
    "encoding": {
      "x": {"field": "x", "type": "quantitative",
        "axis": {"orient": "top", "values": [-3, -2, -1, 0, 1, 2, 3], "labels": false, "title": null, "grid": false, "tickSize": -4, "domainColor": "#262626", "tickColor": "#262626"}},
      "y": {"field": "y", "type": "quantitative",
        "axis": {"orient": "right", "values": [-3, -2, -1, 0, 1, 2, 3], "labels": false, "title": null, "grid": false, "tickSize": -4, "domainColor": "#262626", "tickColor": "#262626"}}
    }
  }
],
"resolve": {"axis": {"x": "independent", "y": "independent"}}
}
